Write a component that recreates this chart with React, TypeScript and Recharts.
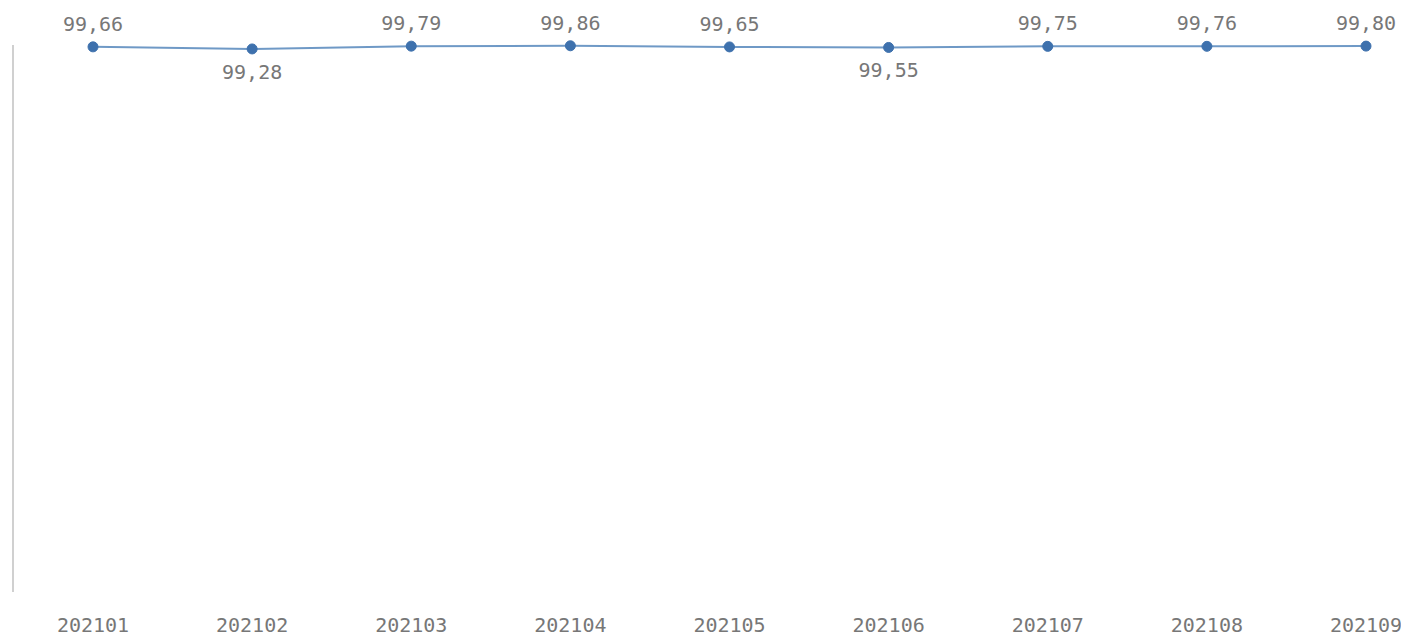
import React from "react";
import { LineChart, Line, XAxis, YAxis, LabelList } from "recharts";

const periods = ["202101", "202102", "202103", "202104", "202105", "202106", "202107", "202108", "202109"];
const values = [99.66, 99.28, 99.79, 99.86, 99.65, 99.55, 99.75, 99.76, 99.8];

const data = periods.map((p, i) => ({ period: p, value: values[i] }));

const FONT = "'DejaVu Sans Mono', monospace";
const TEXT = "#777777";

const fmt = (v: number) => v.toFixed(2).replace(".", ",");

const isLocalMin = (i: number) => {
  const prev = i > 0 ? values[i - 1] : Infinity;
  const next = i < values.length - 1 ? values[i + 1] : Infinity;
  return values[i] < prev && values[i] < next;
};

const ValueLabel = (props: any) => {
  const { x, y, value, index } = props;
  const below = isLocalMin(index);
  return (
    <text
      x={x}
      y={below ? y + 23 : y - 23}
      textAnchor="middle"
      dominantBaseline="central"
      fontFamily={FONT}
      fontSize={20}
      fill={TEXT}
    >
      {fmt(value)}
    </text>
  );
};

const XTick = (props: any) => {
  const { x, y, payload } = props;
  return (
    <text
      x={x}
      y={y + 25}
      textAnchor="middle"
      dominantBaseline="central"
      fontFamily={FONT}
      fontSize={20}
      fill={TEXT}
    >
      {payload.value}
    </text>
  );
};

export default function App() {
  return (
    <LineChart
      width={1401}
      height={631}
      data={data}
      margin={{ top: 37, right: 43, bottom: 0, left: 4 }}
      style={{ overflow: "visible" }}
    >
      <YAxis
        domain={[0, 100]}
        width={1}
        tick={false}
        tickLine={false}
        axisLine={{ stroke: "#d0d0d0", strokeWidth: 2 }}
      />
      <XAxis
        dataKey="period"
        height={47}
        axisLine={false}
        tickLine={false}
        padding={{ left: 80, right: 0 }}
        tick={<XTick />}
        interval={0}
      />
      <Line
        type="linear"
        dataKey="value"
        stroke="#6f99c6"
        strokeWidth={2}
        dot={{ r: 5, fill: "#3e71ad", stroke: "#3e71ad", strokeWidth: 1 }}
        activeDot={false}
        isAnimationActive={false}
      >
        <LabelList dataKey="value" content={<ValueLabel />} />
      </Line>
    </LineChart>
  );
}
